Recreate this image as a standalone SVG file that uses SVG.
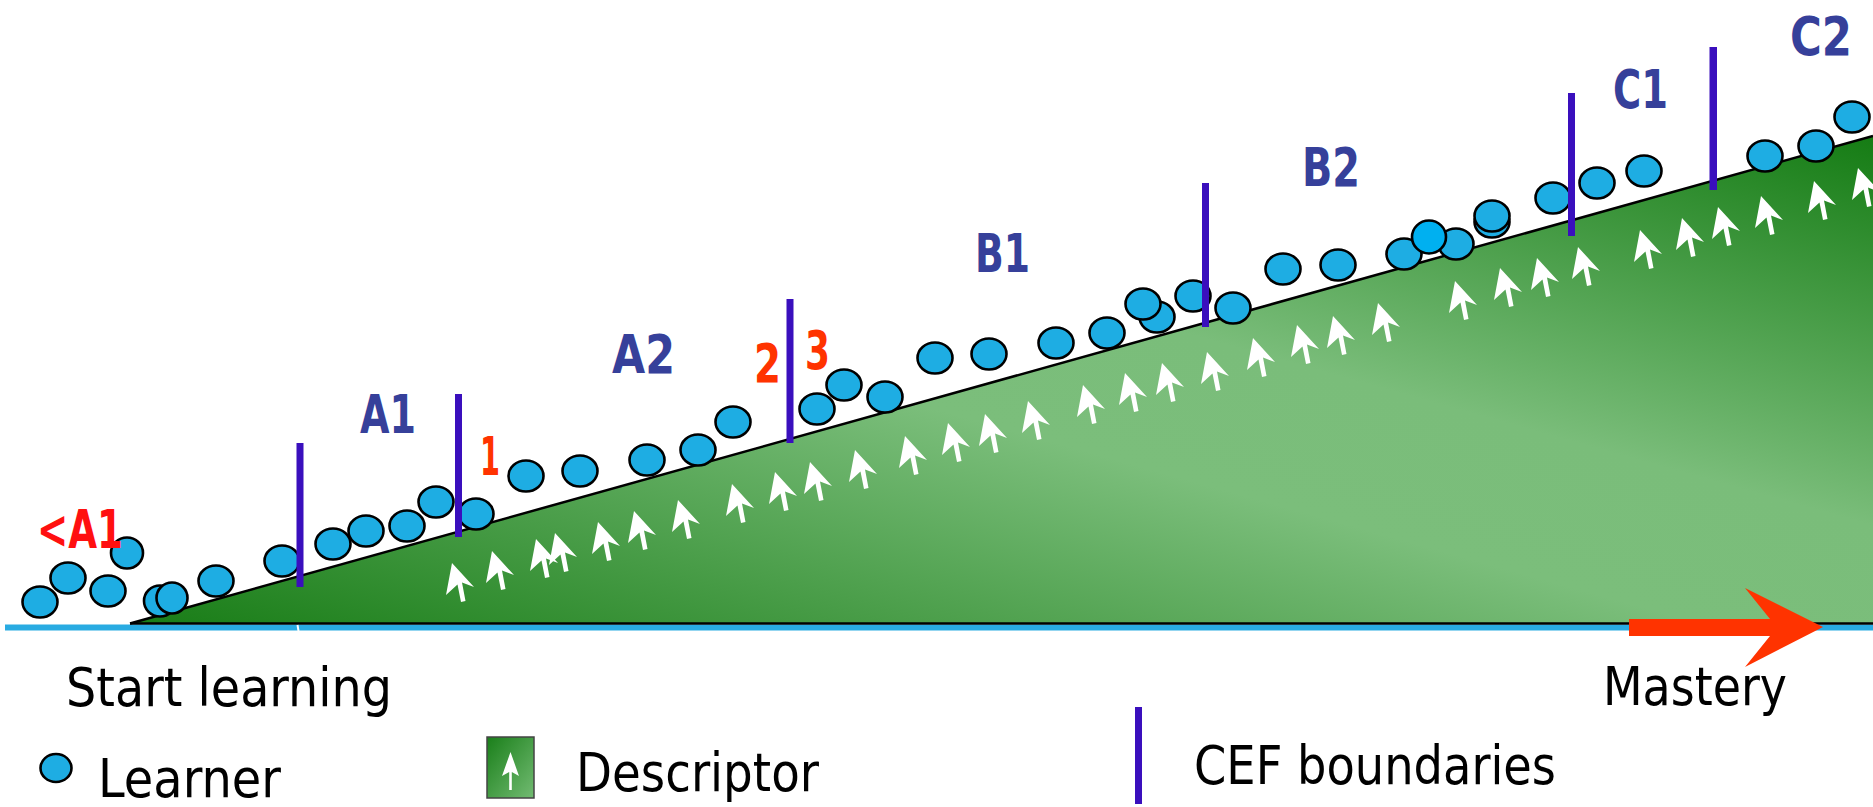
<svg xmlns="http://www.w3.org/2000/svg" xmlns:xlink="http://www.w3.org/1999/xlink" width="1873" height="807" viewBox="0 0 1873 807">
  <style>
    .learner { fill: #1eade3; stroke: #000; stroke-width: 2.6; }
    .learner-hi { fill: #00b0f0; stroke: #000; stroke-width: 2.6; }
    .bound { fill: #3a0fbd; }
    .level { font-family: "DejaVu Sans", "Liberation Sans", sans-serif; font-weight: bold; font-size: 53px; fill: #36409a; }
    .step { font-family: "DejaVu Sans", "Liberation Sans", sans-serif; font-weight: bold; font-size: 53px; fill: #ff3300; }
    .legend { font-family: "DejaVu Sans", "Liberation Sans", sans-serif; font-size: 54px; fill: #000; }
  </style>
  <defs>
    <linearGradient id="slopeFill" x1="0" y1="1" x2="1" y2="0">
      <stop offset="0" stop-color="#197d17"/>
      <stop offset="0.45" stop-color="#7bbe7b"/>
      <stop offset="0.6" stop-color="#7abd7a"/>
      <stop offset="1" stop-color="#157c14"/>
    </linearGradient>
    <linearGradient id="iconFill" x1="0" y1="0" x2="1" y2="1">
      <stop offset="0" stop-color="#1a7f1a"/>
      <stop offset="1" stop-color="#72bb72"/>
    </linearGradient>
    <!-- descriptor glyph: tilted arrow, tip at origin -->
    <path id="desc" d="M0,0 L22,24 L10,19.5 L13.5,38 L9,39 L5.5,21.5 L-6,32 Z" fill="#fff"/>
  </defs>

  <!-- ground line -->
  <rect x="5" y="624.5" width="1868" height="6" fill="#29abe2"/>

  <!-- progression wedge -->
  <g id="wedge">
    <polygon points="133,623 1873,136 1873,623" fill="url(#slopeFill)"/>
    <line x1="130" y1="623.5" x2="1873" y2="623.5" stroke="#000" stroke-width="2.5"/>
    <line x1="130" y1="623.5" x2="1873" y2="136" stroke="#000" stroke-width="2.5"/>
    <line x1="297.5" y1="625" x2="298.5" y2="631" stroke="#fff" stroke-width="2"/>
  </g>

  <!-- descriptors -->
  <g id="descriptors">
    <use xlink:href="#desc" x="452" y="563"/>
    <use xlink:href="#desc" x="492" y="551"/>
    <use xlink:href="#desc" x="536" y="539"/>
    <use xlink:href="#desc" x="555" y="533"/>
    <use xlink:href="#desc" x="598" y="522"/>
    <use xlink:href="#desc" x="634" y="511"/>
    <use xlink:href="#desc" x="678" y="500"/>
    <use xlink:href="#desc" x="732" y="484"/>
    <use xlink:href="#desc" x="775" y="472"/>
    <use xlink:href="#desc" x="810" y="462"/>
    <use xlink:href="#desc" x="855" y="450"/>
    <use xlink:href="#desc" x="905" y="436"/>
    <use xlink:href="#desc" x="948" y="423"/>
    <use xlink:href="#desc" x="985" y="414"/>
    <use xlink:href="#desc" x="1028" y="401"/>
    <use xlink:href="#desc" x="1083" y="385"/>
    <use xlink:href="#desc" x="1125" y="373"/>
    <use xlink:href="#desc" x="1162" y="363"/>
    <use xlink:href="#desc" x="1207" y="352"/>
    <use xlink:href="#desc" x="1253" y="338"/>
    <use xlink:href="#desc" x="1297" y="325"/>
    <use xlink:href="#desc" x="1333" y="316"/>
    <use xlink:href="#desc" x="1378" y="303"/>
    <use xlink:href="#desc" x="1455" y="281"/>
    <use xlink:href="#desc" x="1500" y="268"/>
    <use xlink:href="#desc" x="1537" y="258"/>
    <use xlink:href="#desc" x="1578" y="247"/>
    <use xlink:href="#desc" x="1640" y="230"/>
    <use xlink:href="#desc" x="1682" y="218"/>
    <use xlink:href="#desc" x="1718" y="207"/>
    <use xlink:href="#desc" x="1761" y="196"/>
    <use xlink:href="#desc" x="1814" y="181"/>
    <use xlink:href="#desc" x="1858" y="168"/>
  </g>

  <!-- learners -->
  <g id="learners">
    <ellipse class="learner" cx="40" cy="602" rx="17.5" ry="15.5"/>
    <ellipse class="learner" cx="68" cy="578" rx="17.5" ry="15.5"/>
    <ellipse class="learner" cx="108" cy="591" rx="17.5" ry="15.5"/>
    <ellipse class="learner" cx="127" cy="553" rx="16" ry="15.5"/>
    <ellipse class="learner" cx="160" cy="601" rx="16" ry="15.5"/>
    <ellipse class="learner" cx="172" cy="598" rx="15.5" ry="15.5"/>
    <ellipse class="learner" cx="216" cy="581" rx="17.5" ry="15.5"/>
    <ellipse class="learner" cx="282" cy="561" rx="17.5" ry="15.5"/>
    <ellipse class="learner" cx="333" cy="544" rx="17.5" ry="15.5"/>
    <ellipse class="learner" cx="366" cy="531" rx="17.5" ry="15.5"/>
    <ellipse class="learner" cx="407" cy="526" rx="17.5" ry="15.5"/>
    <ellipse class="learner" cx="436" cy="502" rx="17.5" ry="15.5"/>
    <ellipse class="learner" cx="476" cy="514" rx="17.5" ry="15.5"/>
    <ellipse class="learner" cx="526" cy="476" rx="17.5" ry="15.5"/>
    <ellipse class="learner" cx="580" cy="471" rx="17.5" ry="15.5"/>
    <ellipse class="learner" cx="647" cy="460" rx="17.5" ry="15.5"/>
    <ellipse class="learner" cx="698" cy="450" rx="17.5" ry="15.5"/>
    <ellipse class="learner" cx="733" cy="422" rx="17.5" ry="15.5"/>
    <ellipse class="learner" cx="817" cy="409" rx="17.5" ry="15.5"/>
    <ellipse class="learner" cx="844" cy="385" rx="17.5" ry="15.5"/>
    <ellipse class="learner" cx="885" cy="397" rx="17.5" ry="15.5"/>
    <ellipse class="learner" cx="935" cy="358" rx="17.5" ry="15.5"/>
    <ellipse class="learner" cx="989" cy="354" rx="17.5" ry="15.5"/>
    <ellipse class="learner" cx="1056" cy="343" rx="17.5" ry="15.5"/>
    <ellipse class="learner" cx="1107" cy="333" rx="17.5" ry="15.5"/>
    <ellipse class="learner" cx="1157" cy="317" rx="17.5" ry="15.5"/>
    <ellipse class="learner" cx="1143" cy="304" rx="17.5" ry="15.5"/>
    <ellipse class="learner" cx="1193" cy="296" rx="17.5" ry="15.5"/>
    <ellipse class="learner" cx="1233" cy="308" rx="17.5" ry="15.5"/>
    <ellipse class="learner" cx="1283" cy="269" rx="17.5" ry="15.5"/>
    <ellipse class="learner" cx="1338" cy="265" rx="17.5" ry="15.5"/>
    <ellipse class="learner" cx="1404" cy="254" rx="17.5" ry="15.5"/>
    <ellipse class="learner" cx="1456" cy="244" rx="17.5" ry="15.5"/>
    <ellipse class="learner-hi" cx="1429" cy="237" rx="17" ry="16.5"/>
    <ellipse class="learner" cx="1492" cy="222" rx="17.5" ry="15.5"/>
    <ellipse class="learner" cx="1492" cy="216" rx="17.5" ry="15.5"/>
    <ellipse class="learner" cx="1553" cy="198" rx="17.5" ry="15.5"/>
    <ellipse class="learner" cx="1597" cy="183" rx="17.5" ry="15.5"/>
    <ellipse class="learner" cx="1644" cy="171" rx="17.5" ry="15.5"/>
    <ellipse class="learner" cx="1765" cy="156" rx="17.5" ry="15.5"/>
    <ellipse class="learner" cx="1816" cy="146" rx="17.5" ry="15.5"/>
    <ellipse class="learner" cx="1852" cy="117" rx="17.5" ry="15.5"/>
  </g>

  <!-- CEF boundaries -->
  <g id="boundaries">
    <rect class="bound" x="296.5" y="443" width="7" height="144"/>
    <rect class="bound" x="455" y="394" width="7" height="143"/>
    <rect class="bound" x="786.5" y="299" width="7" height="144"/>
    <rect class="bound" x="1202" y="183" width="7" height="144"/>
    <rect class="bound" x="1568" y="93" width="7" height="143"/>
    <rect class="bound" x="1709.5" y="47" width="7.5" height="143"/>
  </g>

  <!-- level labels -->
  <g id="levels">
    <text class="step" x="37" y="548" style="fill:#ff1010" textLength="86" lengthAdjust="spacingAndGlyphs">&lt;A1</text>
    <text class="level" x="360" y="433" textLength="56" lengthAdjust="spacingAndGlyphs">A1</text>
    <text class="level" x="612" y="373" textLength="63" lengthAdjust="spacingAndGlyphs">A2</text>
    <text class="level" x="975" y="272" textLength="55" lengthAdjust="spacingAndGlyphs">B1</text>
    <text class="level" x="1302" y="186" textLength="58" lengthAdjust="spacingAndGlyphs">B2</text>
    <text class="level" x="1613" y="108" textLength="55" lengthAdjust="spacingAndGlyphs">C1</text>
    <text class="level" x="1790" y="55" textLength="62" lengthAdjust="spacingAndGlyphs">C2</text>
    <text class="step" x="480" y="475" textLength="20" lengthAdjust="spacingAndGlyphs">1</text>
    <text class="step" x="754" y="382" textLength="27" lengthAdjust="spacingAndGlyphs">2</text>
    <text class="step" x="805" y="369" textLength="25" lengthAdjust="spacingAndGlyphs">3</text>
  </g>

  <!-- direction of progress -->
  <g id="mastery-arrow">
    <polygon points="1629,619 1770,619 1745,588 1823,627 1745,667 1770,636 1629,636" fill="#ff3300"/>
  </g>

  <!-- axis ends -->
  <g id="axis-labels">
    <text class="legend" x="66" y="706" font-size="52" textLength="326" lengthAdjust="spacingAndGlyphs">Start learning</text>
    <text class="legend" x="1603" y="705" font-size="52" textLength="184" lengthAdjust="spacingAndGlyphs">Mastery</text>
  </g>

  <!-- key -->
  <g id="legend-learner">
    <ellipse class="learner" cx="56" cy="768" rx="15.5" ry="14"/>
    <text class="legend" x="98" y="797" textLength="183" lengthAdjust="spacingAndGlyphs">Learner</text>
  </g>
  <g id="legend-descriptor">
    <rect x="487" y="737" width="47" height="61" fill="url(#iconFill)" stroke="#444" stroke-width="1.5"/>
    <polygon points="510.5,752 519,776 511.8,772 511.8,790 509.2,790 509.2,772 502,776" fill="#fff"/>
    <text class="legend" x="576" y="791" textLength="243" lengthAdjust="spacingAndGlyphs">Descriptor</text>
  </g>
  <g id="legend-boundary">
    <rect class="bound" x="1135" y="707" width="7" height="97"/>
    <text class="legend" x="1194" y="784" textLength="362" lengthAdjust="spacingAndGlyphs">CEF boundaries</text>
  </g>
</svg>
